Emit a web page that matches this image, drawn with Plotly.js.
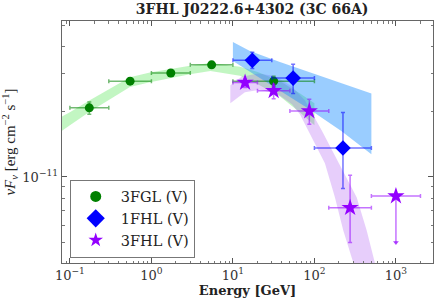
<!DOCTYPE html>
<html>
<head>
<meta charset="utf-8">
<script src="https://cdn.plot.ly/plotly-3.0.1.min.js"></script>
<style>html,body{margin:0;padding:0;background:#fff;}#chart{width:447px;height:298px;}</style>
</head>
<body>
<div id="chart"></div>
<script>
// ---- 3FGL (green circles) ----
const fglE   = [0.173, 0.548, 1.73, 5.48, 31.6];
const fglF   = [2.08e-11, 2.76e-11, 3.01e-11, 3.28e-11, 2.76e-11];
const fglElo = [0.1, 0.3, 1, 3, 10];
const fglEhi = [0.3, 1, 3, 10, 100];
const fglFlo = [1.945e-11, 2.68e-11, 2.94e-11, 3.20e-11, 2.62e-11];
const fglFhi = [2.215e-11, 2.85e-11, 3.08e-11, 3.36e-11, 2.91e-11];

// ---- 1FHL (blue diamonds) ----
const fhl1E   = [17.3, 54.8, 224];
const fhl1F   = [3.44e-11, 2.85e-11, 1.36e-11];
const fhl1Elo = [10, 30, 100];
const fhl1Ehi = [30, 100, 500];
const fhl1Flo = [3.16e-11, 2.42e-11, 8.84e-12];
const fhl1Fhi = [3.745e-11, 3.30e-11, 1.98e-11];

// ---- 3FHL (purple stars) ----
const fhl3E   = [14.1, 31.6, 86.6, 274];
const fhl3F   = [2.72e-11, 2.49e-11, 2.01e-11, 7.22e-12];
const fhl3Elo = [10, 20, 50, 150];
const fhl3Ehi = [20, 50, 150, 500];
const fhl3Flo = [2.58e-11, 2.29e-11, 1.75e-11, 4.99e-12];
const fhl3Fhi = [2.82e-11, 2.67e-11, 2.28e-11, 1.019e-11];
// upper limit
const ulE    = [1000];
const ulF    = [8.17e-12];
const ulElo  = [500];
const ulEhi  = [2000];
const ulFend = [4.99e-12];

// ---- model bands ----
const fglBandE   = [0.07, 0.1, 0.171, 0.31, 0.545, 0.958, 1.69, 2.97, 5.3, 8.0, 12.2, 20.2, 37.6, 66, 100];
const fglBandTop = [1.845e-11, 1.987e-11, 2.244e-11, 2.550e-11, 2.880e-11, 3.021e-11, 3.135e-11, 3.253e-11, 3.342e-11, 3.289e-11, 3.219e-11, 3.037e-11, 2.761e-11, 2.430e-11, 2.185e-11];
const fglBandBot = [1.573e-11, 1.730e-11, 1.987e-11, 2.281e-11, 2.591e-11, 2.731e-11, 2.849e-11, 2.973e-11, 3.070e-11, 3.005e-11, 2.926e-11, 2.674e-11, 2.354e-11, 1.987e-11, 1.730e-11];

const fhl1BandTopE = [10, 16.17, 37.7, 116.8, 500];
const fhl1BandTopF = [4.175e-11, 3.795e-11, 3.377e-11, 2.911e-11, 2.422e-11];
const fhl1BandBotE = [10, 28.4, 83.9, 215.7, 500];
const fhl1BandBotF = [3.413e-11, 2.674e-11, 2.066e-11, 1.624e-11, 1.272e-11];

const fhl3BandTopE = [9.3, 12.79, 20.43, 32.75, 52.5, 76.4, 122.6, 199.7, 329.5, 437, 552, 673];
const fhl3BandTopF = [2.646e-11, 2.888e-11, 2.995e-11, 2.911e-11, 2.618e-11, 2.257e-11, 1.641e-11, 1.156e-11, 8.06e-12, 5.68e-12, 4.044e-12, 3.005e-12];
const fhl3BandBotE = [9.3, 14.04, 21.44, 35.65, 52.96, 66.4, 83.9, 134.5, 178.4, 225.6, 299.3, 372];
const fhl3BandBotF = [2.185e-11, 2.456e-11, 2.522e-11, 2.405e-11, 2.163e-11, 1.945e-11, 1.641e-11, 1.156e-11, 8.06e-12, 5.68e-12, 4.044e-12, 3.005e-12];

// ---- axes ticks ----
const xTickVals = [0.1, 1, 10, 100, 1000];
const xTickText = ['10<sup>\u22121</sup>', '10<sup>0</sup>', '10<sup>1</sup>', '10<sup>2</sup>', '10<sup>3</sup>'];
const yTickVals = [1e-11];
const yTickText = ['10<sup>\u221211</sup>'];

const seriesNames = ['3FGL (V)', '1FHL (V)', '3FHL (V)'];

function minorLog(decades) {
  const out = [];
  decades.forEach(d => { for (let m = 2; m <= 9; m++) out.push(d * m); });
  return out;
}
const xMinor = minorLog([0.01, 0.1, 1, 10, 100, 1000]);
const yMinor = minorLog([1e-12, 1e-11]);

function diff(a, b) { return a.map((v, i) => v - b[i]); }
function poly(topE, topF, botE, botF) {
  return { x: topE.concat(botE.slice().reverse()), y: topF.concat(botF.slice().reverse()) };
}

const FONT = 'DejaVu Serif';
const cGreen = '#008000', cBlue = '#0000ff', cPurple = '#9300ff';
const eGreen = 'rgba(0,128,0,0.55)', eBlue = 'rgba(0,0,255,0.55)', ePurple = 'rgba(147,0,255,0.55)';

const pG = poly(fglBandE, fglBandTop, fglBandE, fglBandBot);
const pB = poly(fhl1BandTopE, fhl1BandTopF, fhl1BandBotE, fhl1BandBotF);
const pP = poly(fhl3BandTopE, fhl3BandTopF, fhl3BandBotE, fhl3BandBotF);

function errs(hi, c, lo, col) {
  return { type: 'data', symmetric: false, array: diff(hi, c), arrayminus: diff(c, lo), color: col, thickness: 1.5, width: 2 };
}

const traces = [
  { x: pG.x, y: pG.y, mode: 'lines', fill: 'toself', fillcolor: 'rgba(144,238,144,0.55)', line: { width: 0 }, showlegend: false, hoverinfo: 'skip' },
  { x: pP.x, y: pP.y, mode: 'lines', fill: 'toself', fillcolor: 'rgba(160,60,240,0.25)', line: { width: 0 }, showlegend: false, hoverinfo: 'skip' },
  { x: pB.x, y: pB.y, mode: 'lines', fill: 'toself', fillcolor: 'rgba(30,144,255,0.45)', line: { width: 0 }, showlegend: false, hoverinfo: 'skip' },
  {
    x: fglE, y: fglF, mode: 'markers', showlegend: false,
    marker: { symbol: 'circle', size: 9, color: cGreen },
    error_x: errs(fglEhi, fglE, fglElo, eGreen),
    error_y: errs(fglFhi, fglF, fglFlo, eGreen)
  },
  {
    x: fhl1E, y: fhl1F, mode: 'markers', showlegend: false,
    marker: { symbol: 'diamond', size: 12, color: cBlue },
    error_x: errs(fhl1Ehi, fhl1E, fhl1Elo, eBlue),
    error_y: errs(fhl1Fhi, fhl1F, fhl1Flo, eBlue)
  },
  {
    x: fhl3E, y: fhl3F, mode: 'markers', showlegend: false,
    marker: { symbol: 'star', size: 13, color: cPurple },
    error_x: errs(fhl3Ehi, fhl3E, fhl3Elo, ePurple),
    error_y: errs(fhl3Fhi, fhl3F, fhl3Flo, ePurple)
  },
  {
    x: ulE, y: ulF, mode: 'markers', showlegend: false,
    marker: { symbol: 'star', size: 13, color: cPurple },
    error_x: errs(ulEhi, ulE, ulElo, ePurple),
    error_y: { type: 'data', symmetric: false, array: [0], arrayminus: diff(ulF, ulFend), color: ePurple, thickness: 1.5, width: 0 }
  },
  {
    x: ulE, y: ulFend, mode: 'markers', showlegend: false, hoverinfo: 'skip',
    marker: { symbol: 'triangle-down', size: 5, color: 'rgba(147,0,255,0.75)' }
  },
  // legend entries
  { x: [null], y: [null], mode: 'markers', name: seriesNames[0], marker: { symbol: 'circle', size: 11, color: cGreen } },
  { x: [null], y: [null], mode: 'markers', name: seriesNames[1], marker: { symbol: 'diamond', size: 14, color: cBlue } },
  { x: [null], y: [null], mode: 'markers', name: seriesNames[2], marker: { symbol: 'star', size: 11, color: cPurple } }
];

const axisCommon = {
  type: 'log', showgrid: false, zeroline: false,
  showline: true, linecolor: '#666', linewidth: 1.3, mirror: 'allticks',
  ticks: 'inside', ticklen: 5, tickwidth: 1, tickcolor: '#555',
  tickfont: { family: FONT, size: 13, color: '#333' },
  tickmode: 'array'
};

const layout = {
  width: 447, height: 298,
  margin: { l: 62, r: 14, t: 21, b: 35 },
  paper_bgcolor: '#fff', plot_bgcolor: '#fff',
  font: { family: FONT, color: '#222' },
  title: {
    text: '<b>3FHL J0222.6+4302 (3C 66A)</b>',
    font: { family: FONT, size: 14, color: '#222' },
    x: 0.564, xref: 'container', xanchor: 'center',
    y: 0.985, yref: 'container', yanchor: 'top'
  },
  xaxis: Object.assign({}, axisCommon, {
    range: [Math.log10(0.08), Math.log10(2850)],
    tickvals: xTickVals, ticktext: xTickText,
    minor: { tickvals: xMinor, ticks: 'inside', ticklen: 2.5, tickcolor: '#777', tickwidth: 1 },
    title: { text: '<b>Energy [GeV]</b>', font: { family: FONT, size: 13, color: '#222' }, standoff: 0 }
  }),
  yaxis: Object.assign({}, axisCommon, {
    range: [Math.log10(4.02e-12), Math.log10(5.22e-11)],
    tickvals: yTickVals, ticktext: yTickText,
    minor: { tickvals: yMinor, ticks: 'inside', ticklen: 2.5, tickcolor: '#777', tickwidth: 1 },
    title: { text: '<i>\u03bdF<sub>\u03bd</sub></i> [erg cm<sup>\u22122</sup> s<sup>\u22121</sup>]', font: { family: 'Liberation Serif', size: 15, color: '#222' }, standoff: 8 }
  }),
  showlegend: true,
  legend: {
    x: 0.0208, xanchor: 'left', y: 0.345, yanchor: 'top',
    bgcolor: '#fff', bordercolor: '#777', borderwidth: 1,
    font: { family: FONT, size: 14.5, color: '#222' },
    itemwidth: 40, tracegroupgap: 0
  }
};

Plotly.newPlot('chart', traces, layout, { staticPlot: true, displayModeBar: false });
</script>
</body>
</html>
